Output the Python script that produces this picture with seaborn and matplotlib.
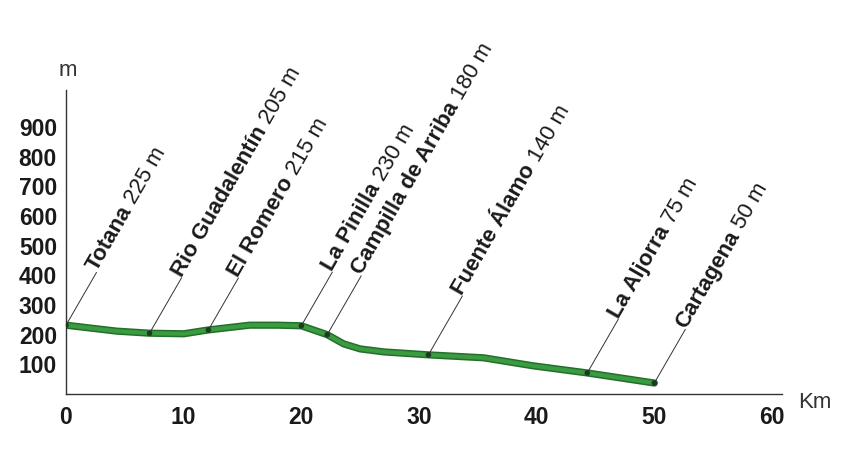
import numpy as np
import pandas as pd
import seaborn as sns
import matplotlib.pyplot as plt
from matplotlib.transforms import offset_copy

# profile of the route (km from Totana, altitude in m)
profile_km = [0, 4.3, 7.1, 10, 12.1, 15.6, 18, 20, 22.2, 23.6, 25, 27, 30.8, 35.5, 39.7, 44.3, 50]
profile_alt = [232, 212, 205, 203, 216, 232, 232, 230, 200, 169, 152, 142, 132, 122, 95, 71, 37]

# towns along the route
names = ["Totana", "Rio Guadalentín", "El Romero", "La Pinilla", "Campilla de Arriba",
         "Fuente Álamo", "La Aljorra", "Cartagena"]
station_km = [0, 7.1, 12.1, 20, 22.2, 30.8, 44.3, 50]
station_y = [232, 205, 216, 230, 200, 132, 71, 37]
station_alt = [225, 205, 215, 230, 180, 140, 75, 50]

xticks = [0, 10, 20, 30, 40, 50, 60]
yticks = [100, 200, 300, 400, 500, 600, 700, 800, 900]

# leader line lengths in pixels
leader_px = [61, 64, 60, 62, 68, 68, 62, 62]
angle = 60

sns.set_style("white")
plt.rcParams['font.family'] = ['Liberation Sans', 'DejaVu Sans']

fig = plt.figure(figsize=(8.53, 4.57), dpi=100)
ax = fig.add_axes([66/853, 1-394/457, (782-66)/853, (394-90)/457])

df = pd.DataFrame({'km': profile_km, 'alt': profile_alt})
sns.lineplot(data=df, x='km', y='alt', ax=ax, color='#246f2c', lw=5.2,
             solid_capstyle='round', solid_joinstyle='round')
sns.lineplot(data=df, x='km', y='alt', ax=ax, color='#3b9b40', lw=3,
             solid_capstyle='round', solid_joinstyle='round')
st = pd.DataFrame({'km': station_km, 'alt': station_y})
sns.scatterplot(data=st, x='km', y='alt', ax=ax, color='#1b3a1f', s=16,
                edgecolor='none', zorder=5)

ax.set_xlim(0, 60.85)
ax.set_ylim(0, 1025)
ax.set_xticks(xticks)
ax.set_yticks(yticks)
ax.set_xlabel('')
ax.set_ylabel('')
for s in ['top', 'right']:
    ax.spines[s].set_visible(False)
for s in ['left', 'bottom']:
    ax.spines[s].set_color('#333333')
    ax.spines[s].set_linewidth(1)
ax.tick_params(direction='inout', length=7, width=0.8, color='#333333',
               labelsize=16.5, labelcolor='#1a1a1a')
ax.tick_params(axis='x', pad=5)
ax.tick_params(axis='y', pad=3)
for lab in ax.get_xticklabels() + ax.get_yticklabels():
    lab.set_fontweight('bold')

fs = 16
renderer = fig.canvas.get_renderer()
rad = np.deg2rad(angle)
for i, name in enumerate(names):
    L = leader_px[i] * 72 / fig.dpi
    dx, dy = L * np.cos(rad), L * np.sin(rad)
    ax.annotate('', xy=(station_km[i], station_y[i]), xytext=(dx, dy),
                textcoords='offset points',
                arrowprops=dict(arrowstyle='-', lw=0.7, color='#333333',
                                shrinkA=0, shrinkB=0))
    t = ax.text(station_km[i], station_y[i], name,
                transform=offset_copy(ax.transData, fig=fig, x=dx, y=dy, units='points'),
                rotation=angle, rotation_mode='anchor', ha='left', va='baseline',
                fontsize=fs, fontweight='bold', color='#1a1a1a')
    w = renderer.get_text_width_height_descent(name, t.get_fontproperties(), ismath=False)[0]
    w = w * 72 / fig.dpi + 0.28 * fs
    ax.text(station_km[i], station_y[i], f"{station_alt[i]} m",
            transform=offset_copy(ax.transData, fig=fig, x=dx + w*np.cos(rad),
                                  y=dy + w*np.sin(rad), units='points'),
            rotation=angle, rotation_mode='anchor', ha='left', va='baseline',
            fontsize=fs, color='#1a1a1a')

fig.text(68/853, 1-70/457, 'm', ha='center', va='center', fontsize=16, color='#333333')
fig.text(798/853, 1-402/457, 'Km', ha='left', va='center', fontsize=16, color='#333333')

plt.savefig('out.png', dpi=100)
